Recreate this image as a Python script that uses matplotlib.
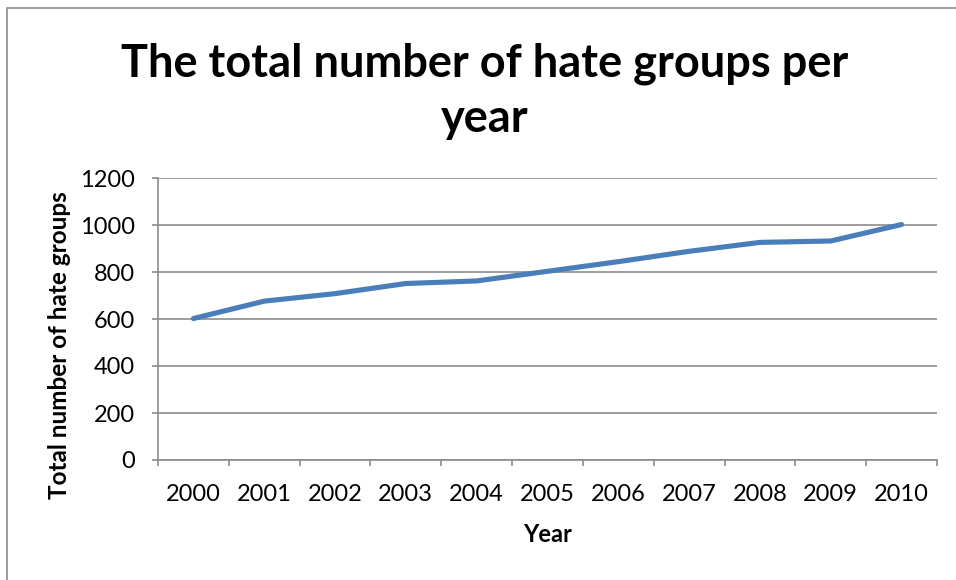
import matplotlib.pyplot as plt
from matplotlib.patches import Rectangle

years = ['2000', '2001', '2002', '2003', '2004', '2005', '2006', '2007', '2008', '2009', '2010']
hate_groups = [602, 676, 708, 751, 762, 803, 844, 888, 926, 932, 1002]
y_ticks = [0, 200, 400, 600, 800, 1000, 1200]

plt.rcParams['font.family'] = ['Lato', 'DejaVu Sans']

fig = plt.figure(figsize=(9.56, 5.8), dpi=100)
fig.patches.append(Rectangle((7 / 956, -0.1), 2.0, 1.1 - 8 / 580, transform=fig.transFigure,
                             fill=False, edgecolor='#8c8c8c', linewidth=1.2))

ax = fig.add_axes([158 / 956, 1 - 460 / 580, (937 - 158) / 956, (460 - 178) / 580])

x = list(range(len(years)))
ax.plot(x, hate_groups, color='#4a7ebb', linewidth=3.7, solid_capstyle='round', solid_joinstyle='round')

ax.set_xlim(-0.5, len(years) - 0.5)
ax.set_ylim(0, 1200)
ax.set_yticks(y_ticks)
ax.set_yticklabels([str(v) for v in y_ticks], fontsize=17)
ax.set_xticks(x)
ax.set_xticklabels(years, fontsize=17)
ax.set_xticks([i - 0.5 for i in range(len(years) + 1)], minor=True)
ax.tick_params(axis='x', which='major', length=0, pad=17)
ax.tick_params(axis='x', which='minor', length=4.5, color='#8c8c8c', width=1.2)
ax.tick_params(axis='y', length=4.5, color='#8c8c8c', width=1.2, pad=12)

ax.grid(axis='y', color='#8c8c8c', linewidth=1.2)
ax.set_axisbelow(True)
for side in ['top', 'right']:
    ax.spines[side].set_visible(False)
for side in ['left', 'bottom']:
    ax.spines[side].set_color('#8c8c8c')
    ax.spines[side].set_linewidth(1.2)

fig.text(548 / 956, 1 - 535 / 580, 'Year', ha='center', va='center', fontsize=17, fontweight='bold')
fig.text(60 / 956, 1 - 345 / 580, 'Total number of hate groups', ha='center', va='center',
         rotation=90, fontsize=17.5, fontweight='bold')

fig.text(485 / 956, 1 - 91 / 580, 'The total number of hate groups per\nyear', ha='center', va='center',
         fontsize=32.5, fontweight='bold', linespacing=1.38, multialignment='center')

fig.savefig('out.png', dpi=100)
